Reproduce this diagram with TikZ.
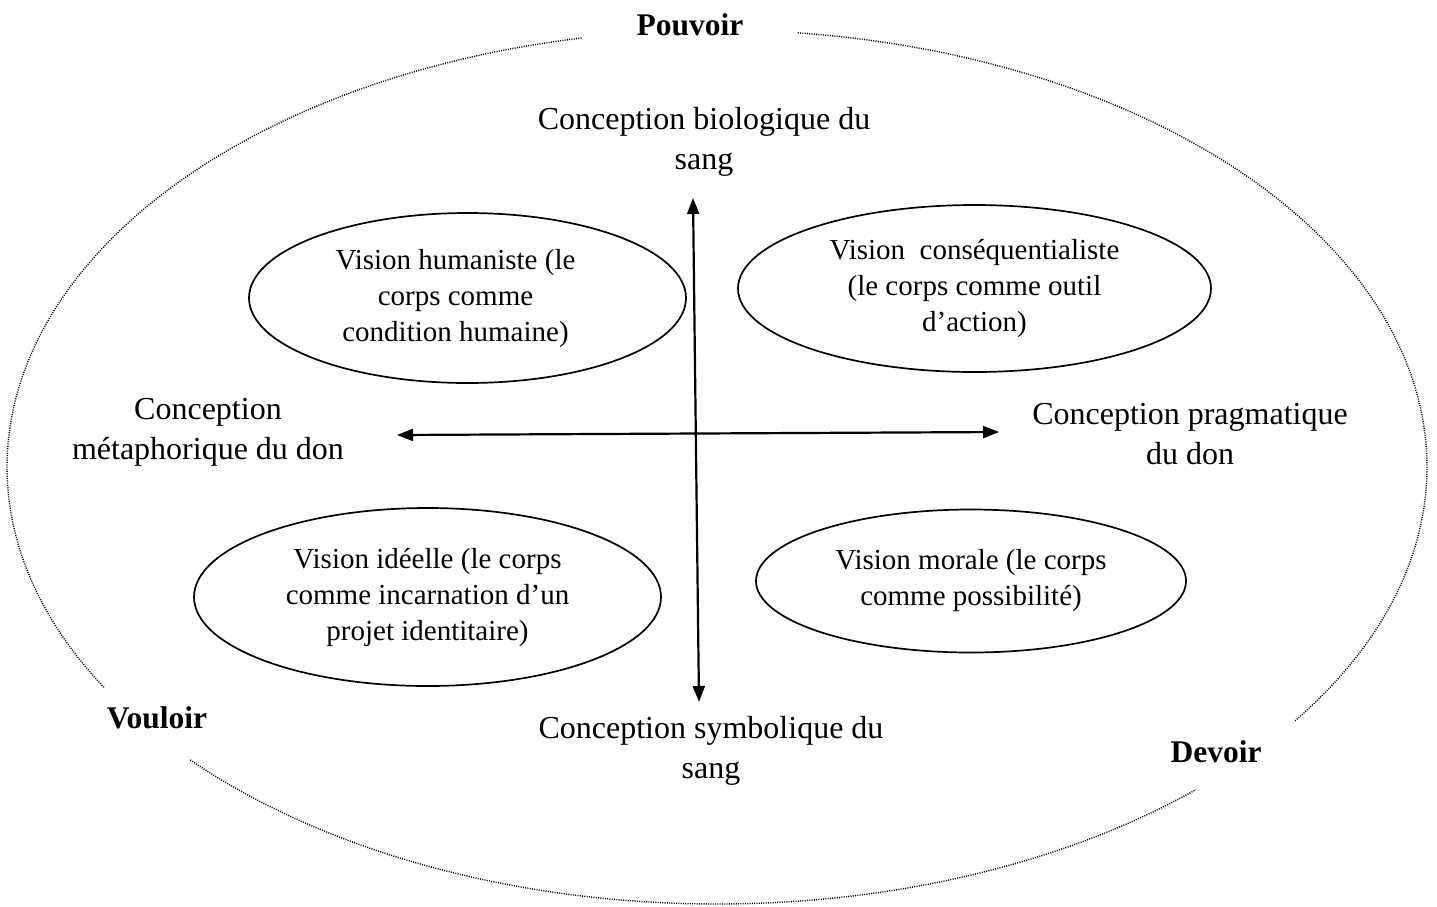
\documentclass[tikz,border=0pt]{standalone}
\usepackage{fontspec}
\setmainfont{Liberation Serif}
\usetikzlibrary{arrows.meta,shapes.geometric}
\tikzset{
  outerdots/.style={line width=1.4pt, dash pattern=on 1pt off 1.3pt},
  vision/.style={draw, line width=1.7pt, ellipse, inner sep=0pt, align=center,
    font=\fontsize{29}{36}\selectfont},
  axislabel/.style={align=center, font=\fontsize{32}{40}\selectfont},
  pole/.style={font=\fontsize{31.5}{34}\selectfont\bfseries},
  axis/.style={line width=2.2pt, {Triangle[length=16pt,width=12pt]}-{Triangle[length=16pt,width=12pt]}}
}
\begin{document}
\begin{tikzpicture}[x=1pt,y=-1pt]
\useasboundingbox (0,0) rectangle (1437,906);
% outer dotted ellipse, three arcs
\draw[outerdots] plot[domain=101:210.3, samples=160] ({717+710*cos(\x)},{467-437*sin(\x)});
\draw[outerdots] plot[domain=222.1:312.4, samples=160] ({717+710*cos(\x)},{467-437*sin(\x)});
\draw[outerdots] plot[domain=324.5:443.5, samples=200] ({717+710*cos(\x)},{467-437*sin(\x)});
% poles
\node[pole] (pouvoir) at (690,25) {Pouvoir};
\node[pole] (vouloir) at (157,718) {Vouloir};
\node[pole] (devoir) at (1216,752) {Devoir};
% axis labels
\node[axislabel] (bio) at (704,142) {Conception biologique du\\sang};
\node[axislabel] (sym) at (711,751) {Conception symbolique du\\sang};
\node[axislabel] (meta) at (208,432) {Conception\\métaphorique du don};
\node[axislabel] (prag) at (1190,434) {Conception pragmatique\\du don};
% visions
\node[vision, minimum width=437pt, minimum height=170pt] (hum) at (467.5,298)
  {\hspace*{-24pt}\begin{tabular}{@{}c@{}}Vision humaniste (le\\corps comme\\condition humaine)\end{tabular}};
\node[vision, minimum width=473pt, minimum height=167pt] (cons) at (974.5,288.5)
  {Vision\ \ conséquentialiste\\(le corps comme outil\\d’action)};
\node[vision, minimum width=467pt, minimum height=178pt] (ide) at (427.5,597)
  {Vision idéelle (le corps\\comme incarnation d’un\\projet identitaire)};
\node[vision, minimum width=430pt, minimum height=143pt] (mor) at (971,581)
  {Vision morale (le corps\\comme possibilité)};
% axes
\coordinate (vt) at (693,198);
\coordinate (vb) at (699,702);
\coordinate (hl) at (397,435);
\coordinate (hr) at (999,432);
\draw[axis] (vt) -- (vb);
\draw[axis] (hl) -- (hr);
\end{tikzpicture}
\end{document}
